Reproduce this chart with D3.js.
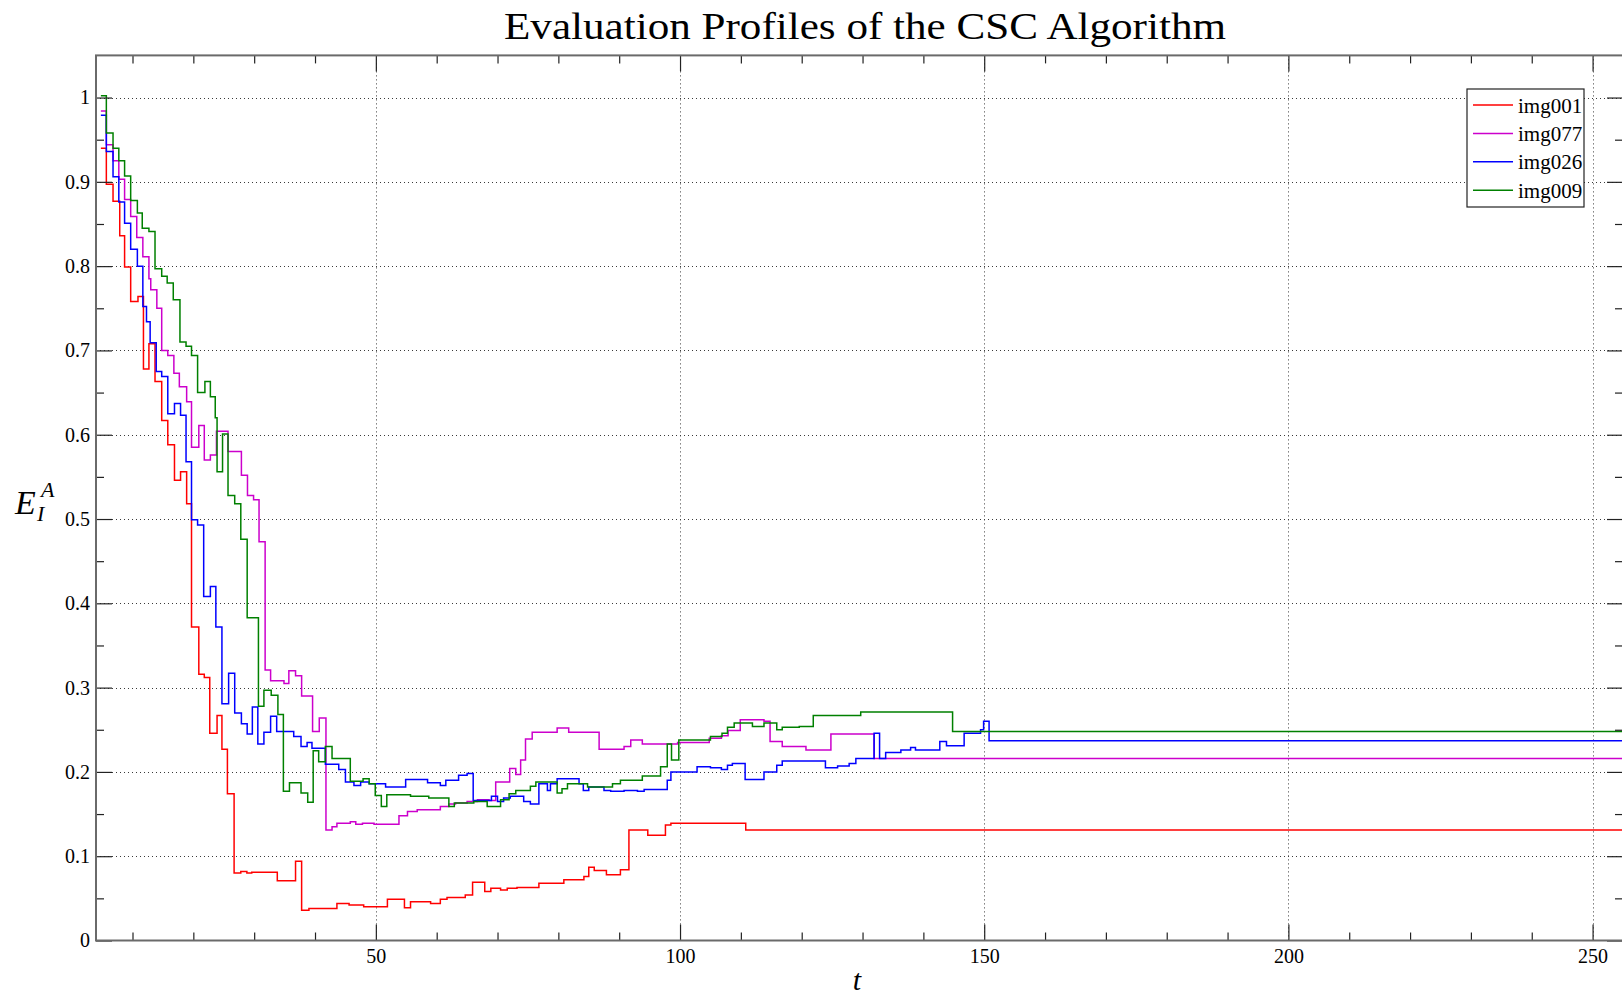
<!DOCTYPE html>
<html>
<head>
<meta charset="utf-8">
<script src="https://cdn.jsdelivr.net/npm/d3@7"></script>
<style>
  body { margin: 0; background: #fff; }
  svg { display: block; }
</style>
</head>
<body>
<svg id="chart" width="1622" height="995"></svg>
<script>
// ---- data: step profiles, each entry is [t where the value starts, value] ----
const seriesNames = ["img001", "img077", "img026", "img009"];
const seriesColors = ["#ff0000", "#cc00cc", "#0000ff", "#008000"];

const img001 = [
  [4.8, 0.940], [5.7, 0.897], [6.8, 0.877], [7.9, 0.836], [8.7, 0.799], [9.7, 0.758],
  [10.9, 0.764], [11.8, 0.678], [12.7, 0.708], [13.7, 0.663], [14.8, 0.617], [15.8, 0.588],
  [16.9, 0.546], [17.9, 0.556], [18.9, 0.518], [19.7, 0.372], [20.9, 0.316], [21.8, 0.312],
  [22.7, 0.246], [23.9, 0.267], [24.7, 0.227], [25.6, 0.174], [26.7, 0.080], [27.8, 0.082],
  [28.8, 0.080], [29.6, 0.081], [33.8, 0.071], [36.8, 0.094], [37.8, 0.036], [39.0, 0.038],
  [43.6, 0.044], [45.6, 0.042], [48.0, 0.040], [51.9, 0.049], [54.7, 0.039], [55.7, 0.046],
  [59.0, 0.044], [60.6, 0.049], [61.7, 0.051], [64.7, 0.054], [65.9, 0.069], [67.9, 0.058],
  [68.9, 0.062], [70.5, 0.060], [71.6, 0.062], [73.2, 0.063], [76.8, 0.068], [80.9, 0.072],
  [84.2, 0.076], [85.0, 0.087], [85.9, 0.083], [87.9, 0.078], [90.2, 0.084], [91.6, 0.131],
  [94.7, 0.125], [97.6, 0.137], [98.5, 0.139], [110.8, 0.131], [255, 0.131]
];

const img077 = [
  [4.8, 0.984], [5.7, 0.944], [6.8, 0.925], [7.75, 0.903], [8.7, 0.879], [9.7, 0.859],
  [10.7, 0.834], [11.7, 0.811], [12.7, 0.785], [13.0, 0.772], [14.0, 0.750], [14.8, 0.700],
  [15.8, 0.694], [16.8, 0.673], [17.7, 0.657], [18.9, 0.639], [19.7, 0.585], [20.9, 0.611],
  [21.8, 0.570], [22.8, 0.576], [23.8, 0.604], [25.7, 0.580], [27.9, 0.552], [28.9, 0.528],
  [29.9, 0.523], [30.8, 0.473], [31.8, 0.321], [32.7, 0.308], [34.9, 0.305], [35.7, 0.320],
  [36.8, 0.314], [37.8, 0.290], [39.6, 0.248], [40.7, 0.264], [41.8, 0.131], [42.8, 0.135],
  [43.6, 0.139], [45.8, 0.141], [46.7, 0.138], [47.8, 0.139], [49.7, 0.138], [53.8, 0.148],
  [55.2, 0.153], [56.8, 0.155], [60.6, 0.159], [62.0, 0.162], [63.1, 0.163], [65.0, 0.165],
  [66.7, 0.167], [68.6, 0.166], [69.7, 0.188], [72.0, 0.204], [73.0, 0.197], [73.8, 0.214],
  [74.6, 0.239], [75.7, 0.247], [79.8, 0.252], [81.7, 0.247], [86.7, 0.227], [90.8, 0.230],
  [91.9, 0.238], [93.8, 0.233], [99.6, 0.235], [104.8, 0.240], [106.8, 0.243], [107.9, 0.249],
  [109.9, 0.262], [113.8, 0.260], [114.8, 0.236], [116.8, 0.230], [120.7, 0.226], [124.8, 0.245],
  [131.9, 0.216], [255, 0.216]
];

const img026 = [
  [4.8, 0.979], [5.7, 0.936], [6.8, 0.906], [7.75, 0.876], [8.7, 0.851], [9.7, 0.820],
  [10.8, 0.800], [11.7, 0.752], [12.3, 0.734], [12.9, 0.709], [13.9, 0.675], [14.8, 0.669],
  [15.8, 0.625], [16.9, 0.637], [17.9, 0.623], [18.8, 0.568], [19.7, 0.499], [20.7, 0.493],
  [21.7, 0.408], [22.8, 0.420], [23.7, 0.372], [24.7, 0.281], [25.8, 0.317], [26.8, 0.270],
  [27.9, 0.257], [28.85, 0.245], [29.7, 0.277], [30.6, 0.233], [31.6, 0.247], [32.7, 0.266],
  [33.7, 0.248], [36.5, 0.242], [37.7, 0.230], [38.7, 0.235], [39.5, 0.228], [41.7, 0.209],
  [43.9, 0.203], [45.0, 0.188], [46.4, 0.184], [47.5, 0.188], [48.9, 0.186], [51.6, 0.182],
  [54.9, 0.191], [58.5, 0.187], [60.6, 0.184], [61.5, 0.190], [63.6, 0.196], [65.0, 0.198],
  [66.0, 0.166], [69.0, 0.171], [70.0, 0.165], [71.0, 0.169], [72.1, 0.171], [74.3, 0.165],
  [75.4, 0.162], [76.8, 0.186], [78.2, 0.178], [78.7, 0.186], [79.8, 0.192], [83.4, 0.186],
  [84.1, 0.178], [85.0, 0.182], [87.5, 0.178], [88.6, 0.177], [90.8, 0.178], [93.0, 0.177],
  [94.1, 0.179], [97.9, 0.190], [98.5, 0.200], [102.8, 0.206], [105.0, 0.205], [106.8, 0.203],
  [107.8, 0.208], [108.6, 0.210], [110.7, 0.191], [113.8, 0.200], [115.9, 0.208], [116.8, 0.213],
  [123.9, 0.205], [125.9, 0.207], [127.8, 0.210], [128.9, 0.216], [131.9, 0.246], [132.8, 0.216],
  [133.8, 0.223], [136.3, 0.226], [137.9, 0.229], [138.7, 0.226], [142.7, 0.236], [143.8, 0.231],
  [146.7, 0.246], [149.4, 0.250], [149.9, 0.260], [150.8, 0.237], [255, 0.237]
];

const img009 = [
  [4.8, 1.002], [5.7, 0.958], [6.8, 0.940], [7.75, 0.925], [8.7, 0.907], [9.7, 0.878],
  [10.8, 0.863], [11.6, 0.845], [12.7, 0.841], [13.7, 0.797], [14.8, 0.788], [15.7, 0.780],
  [16.7, 0.760], [17.8, 0.710], [18.8, 0.705], [19.7, 0.694], [20.7, 0.650], [21.9, 0.663],
  [22.8, 0.645], [23.6, 0.620], [23.9, 0.556], [24.8, 0.601], [25.7, 0.528], [26.8, 0.518],
  [27.8, 0.476], [28.85, 0.383], [30.7, 0.278], [31.6, 0.297], [32.8, 0.291], [33.9, 0.268],
  [34.8, 0.177], [35.8, 0.187], [37.7, 0.175], [38.8, 0.164], [39.7, 0.225], [40.6, 0.212],
  [41.7, 0.230], [42.8, 0.216], [45.8, 0.189], [47.9, 0.192], [48.9, 0.186], [49.9, 0.172],
  [50.9, 0.159], [51.8, 0.173], [55.7, 0.171], [58.7, 0.169], [62.0, 0.159], [62.9, 0.163],
  [66.1, 0.165], [68.3, 0.159], [70.5, 0.167], [71.9, 0.174], [73.0, 0.178], [75.4, 0.183],
  [76.3, 0.188], [79.8, 0.175], [80.6, 0.180], [81.5, 0.186], [84.8, 0.182], [88.9, 0.186],
  [90.2, 0.190], [93.8, 0.195], [96.8, 0.206], [97.9, 0.233], [98.6, 0.214], [99.8, 0.238],
  [105.0, 0.242], [106.9, 0.246], [107.8, 0.253], [108.9, 0.258], [111.9, 0.254], [113.8, 0.258],
  [115.9, 0.250], [116.8, 0.253], [119.6, 0.254], [121.9, 0.267], [129.7, 0.271], [144.8, 0.248],
  [255, 0.248]
];

const seriesData = [img001, img077, img026, img009];

const xDomain = [4, 255];
const yDomain = [0, 1.05];
const xMajorTicks = [50, 100, 150, 200, 250];
const xMinorTicks = [10, 20, 30, 40, 60, 70, 80, 90, 110, 120, 130, 140, 160, 170, 180, 190, 210, 220, 230, 240];
const yMajorTicks = [0, 0.1, 0.2, 0.3, 0.4, 0.5, 0.6, 0.7, 0.8, 0.9, 1];
const yMinorTicks = [0.05, 0.15, 0.25, 0.35, 0.45, 0.55, 0.65, 0.75, 0.85, 0.95];
const yTickLabels = ["0", "0.1", "0.2", "0.3", "0.4", "0.5", "0.6", "0.7", "0.8", "0.9", "1"];

const titleText = "Evaluation Profiles of the CSC Algorithm";

// ---- layout ----
const svg = d3.select("#chart");
const plotLeft = 96, plotRight = 1623, plotTop = 55.4, plotBottom = 940.5;
const serif = "'Liberation Serif', 'Times New Roman', serif";

const x = d3.scaleLinear().domain(xDomain).range([plotLeft, plotRight]);
const y = d3.scaleLinear().domain(yDomain).range([plotBottom, plotTop]);

svg.append("rect").attr("width", 1622).attr("height", 995).attr("fill", "#fff");

svg.append("defs").append("clipPath").attr("id", "plot-clip")
  .append("rect").attr("x", plotLeft).attr("y", plotTop)
  .attr("width", plotRight - plotLeft).attr("height", plotBottom - plotTop);

// dotted grid
const grid = svg.append("g").attr("class", "grid")
  .attr("stroke", "#3a3a3a").attr("stroke-width", 1).attr("stroke-dasharray", "1,3");
grid.selectAll("line.gx").data(xMajorTicks).join("line").attr("class", "gx")
  .attr("x1", d => Math.round(x(d)) + 0.5).attr("x2", d => Math.round(x(d)) + 0.5)
  .attr("y1", plotTop).attr("y2", plotBottom);
grid.selectAll("line.gy").data(yMajorTicks.filter(d => d > 0)).join("line").attr("class", "gy")
  .attr("y1", d => Math.round(y(d)) + 0.5).attr("y2", d => Math.round(y(d)) + 0.5)
  .attr("x1", plotLeft).attr("x2", plotRight);

// profiles
const line = d3.line()
  .x(d => x(d[0]))
  .y(d => y(d[1]))
  .curve(d3.curveStepAfter);

svg.append("g").attr("clip-path", "url(#plot-clip)")
  .selectAll("path").data(seriesData).join("path")
  .attr("fill", "none")
  .attr("stroke", (d, i) => seriesColors[i])
  .attr("stroke-width", 1.5)
  .attr("stroke-linejoin", "miter")
  .attr("d", line);

// axes: ticks point inward on all four sides
function styleAxis(g) {
  g.select(".domain").remove();
  g.selectAll(".tick line").attr("stroke", "#222").attr("stroke-width", 1.2);
  g.selectAll(".tick text").attr("font-family", serif).attr("font-size", 20).attr("fill", "#000");
}

svg.append("g").attr("transform", `translate(0,${plotBottom})`)
  .call(d3.axisBottom(x).tickValues(xMajorTicks).tickSize(-16).tickPadding(8).tickFormat(d3.format("d")))
  .call(styleAxis);
svg.append("g").attr("transform", `translate(0,${plotBottom})`)
  .call(d3.axisBottom(x).tickValues(xMinorTicks).tickSize(-8).tickFormat(""))
  .call(styleAxis);
svg.append("g").attr("transform", `translate(0,${plotTop})`)
  .call(d3.axisTop(x).tickValues(xMajorTicks).tickSize(-16).tickFormat(""))
  .call(styleAxis);
svg.append("g").attr("transform", `translate(0,${plotTop})`)
  .call(d3.axisTop(x).tickValues(xMinorTicks).tickSize(-8).tickFormat(""))
  .call(styleAxis);

svg.append("g").attr("transform", `translate(${plotLeft},0)`)
  .call(d3.axisLeft(y).tickValues(yMajorTicks).tickSize(-16).tickPadding(6)
    .tickFormat((d, i) => yTickLabels[i]))
  .call(styleAxis);
svg.append("g").attr("transform", `translate(${plotLeft},0)`)
  .call(d3.axisLeft(y).tickValues(yMinorTicks).tickSize(-8).tickFormat(""))
  .call(styleAxis);
svg.append("g").attr("transform", `translate(${plotRight},0)`)
  .call(d3.axisRight(y).tickValues(yMajorTicks).tickSize(-16).tickFormat(""))
  .call(styleAxis);
svg.append("g").attr("transform", `translate(${plotRight},0)`)
  .call(d3.axisRight(y).tickValues(yMinorTicks).tickSize(-8).tickFormat(""))
  .call(styleAxis);

// axes box
svg.append("rect")
  .attr("x", plotLeft).attr("y", plotTop).attr("width", plotRight - plotLeft).attr("height", plotBottom - plotTop)
  .attr("fill", "none").attr("stroke", "#6a6a6a").attr("stroke-width", 2);

// title
svg.append("text")
  .attr("x", 504).attr("y", 39)
  .attr("font-family", serif).attr("font-size", 38)
  .attr("textLength", 722).attr("lengthAdjust", "spacingAndGlyphs")
  .text(titleText);

// axis labels
svg.append("text")
  .attr("x", 857).attr("y", 990).attr("text-anchor", "middle")
  .attr("font-family", serif).attr("font-style", "italic").attr("font-size", 30)
  .text("t");

const ylab = svg.append("g").attr("font-family", serif).attr("font-style", "italic");
ylab.append("text").attr("x", 15).attr("y", 514).attr("font-size", 34).text("E");
ylab.append("text").attr("x", 37).attr("y", 521).attr("font-size", 22).text("I");
ylab.append("text").attr("x", 41).attr("y", 497).attr("font-size", 22).text("A");

// legend
const legend = svg.append("g").attr("transform", "translate(1467,89)");
legend.append("rect").attr("width", 117).attr("height", 118)
  .attr("fill", "#fff").attr("stroke", "#222").attr("stroke-width", 1.2);
const rows = legend.selectAll("g.row").data(seriesNames).join("g").attr("class", "row")
  .attr("transform", (d, i) => `translate(0,${16 + i * 28.4})`);
rows.append("line").attr("x1", 6).attr("x2", 46)
  .attr("stroke", (d, i) => seriesColors[i]).attr("stroke-width", 1.5);
rows.append("text").attr("x", 51).attr("y", 7.5)
  .attr("font-family", serif).attr("font-size", 21).text(d => d);
</script>
</body>
</html>
